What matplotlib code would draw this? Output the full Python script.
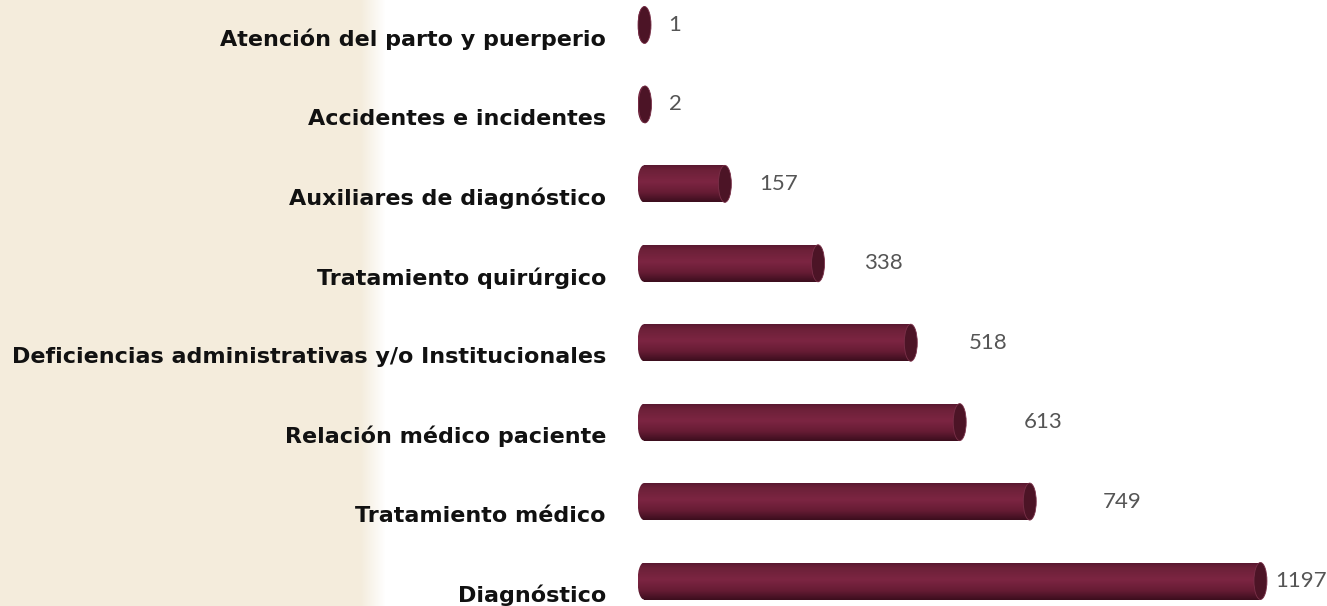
import numpy as np
import matplotlib
matplotlib.use('Agg')
import matplotlib.pyplot as plt
from matplotlib.patches import Ellipse, Rectangle
from matplotlib.colors import LinearSegmentedColormap
from matplotlib.transforms import ScaledTranslation

# data, top to bottom
categories = ['Atención del parto y puerperio', 'Accidentes e incidentes',
              'Auxiliares de diagnóstico', 'Tratamiento quirúrgico',
              'Deficiencias administrativas y/o Institucionales',
              'Relación médico paciente', 'Tratamiento médico', 'Diagnóstico']
values = [1, 2, 157, 338, 518, 613, 749, 1197]

W, H = 1327, 606
fig = plt.figure(figsize=(W / 100, H / 100), dpi=100)

# beige panel on the left that fades to white
bg = fig.add_axes([0, 0, 1, 1])
bg.axis('off')
xs = np.arange(W)
fade = np.clip((385 - xs) / 25.0, 0, 1)
beige = np.array([244, 236, 220]) / 255.0
row = fade[:, None] * beige + (1 - fade[:, None]) * 1.0
img = np.repeat(row[None, :, :], 2, axis=0)
bg.imshow(img, aspect='auto', extent=[0, 1, 0, 1])
bg.set_xlim(0, 1)
bg.set_ylim(0, 1)

# bar axes, 1 px = 1/0.515 data units
px = 0.515
ax = fig.add_axes([630 / W, 0, (W - 630) / W, 1])
ax.patch.set_alpha(0)
step = 79.43
for s in ax.spines.values():
    s.set_visible(False)
ax.set_xticks([])

cmap = LinearSegmentedColormap.from_list('cyl', [
    (0.0, '#5a1830'), (0.12, '#6c2038'), (0.45, '#7c2542'),
    (0.75, '#661c34'), (1.0, '#3c0e1e')])
grad = np.linspace(0, 1, 64)[:, None]

h = 37 / step / 2
cap = 6.5 / px
for i, v in enumerate(values):
    body = Rectangle((0, i - h), v, 2 * h, fc='none', ec='none')
    left = Ellipse((0, i), 2 * cap, 2 * h, fc='none', ec='none')
    for p in (body, left):
        ax.add_patch(p)
        im = ax.imshow(grad, cmap=cmap, aspect='auto',
                       extent=[-cap, v + 1, i + h, i - h], zorder=2)
        im.set_clip_path(p)
    ax.add_patch(Ellipse((v, i), 2 * cap, 2 * h, fc='#4c1426',
                         ec='#7a3049', lw=0.6, zorder=3))
    # value label, placed like the original (clamped at the right edge)
    lx = min(1.126 * v + 46.6, 1225)
    ax.text(lx, i, str(v), ha='left', va='center', fontsize=16,
            family='Lato', color='#555555', zorder=4)

ax.set_xlim(-14 / px, (W - 644) / px)
ax.set_ylim(7 + (H - 581) / step, -25 / step)

ax.set_yticks(range(len(categories)))
ax.set_yticklabels(categories, fontsize=16, weight='bold',
                   family='DejaVu Sans', color='#111111')
ax.tick_params(axis='y', length=0, pad=17.3)
off = ScaledTranslation(0, -12.5 / 100, fig.dpi_scale_trans)
for lab in ax.get_yticklabels():
    lab.set_transform(lab.get_transform() + off)

fig.savefig('out.png', dpi=100)
